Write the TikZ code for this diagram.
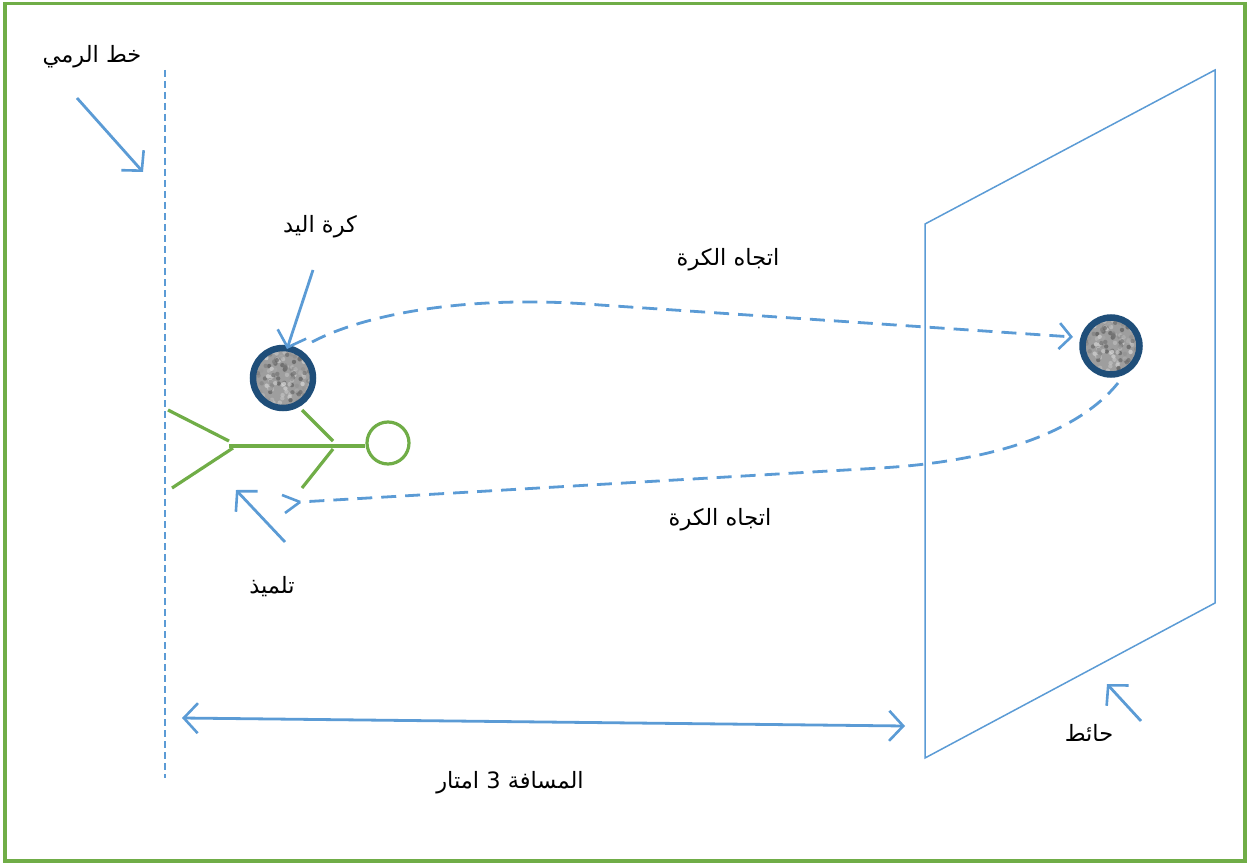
\documentclass[tikz,border=0pt]{standalone}
\usepackage{fontspec}
\usetikzlibrary{arrows.meta,calc}
\TeXXeTstate=1
\newfontfamily\arabicfont[Script=Arabic]{DejaVu Sans}
\definecolor{mblue}{HTML}{5B9BD5}
\definecolor{mgreen}{HTML}{70AD47}
\definecolor{mnavy}{HTML}{1F4E79}
\tikzset{
  lbl/.style={font=\arabicfont\fontsize{22.5}{26}\selectfont, inner sep=0pt},
  ptr/.style={draw=mblue, line width=2.8pt, -{Straight Barb[length=14pt,width=30pt,line width=2.6pt]}},
  curvearrow/.style={draw=mblue, line width=2.8pt, dash pattern=on 15pt off 9pt},
  fig/.style={draw=mgreen, line width=3.2pt},
  ball/.style={circle, draw=mnavy, line width=6.5pt, inner sep=0pt, fill=black!38,
    path picture={\pgfmathsetseed{11}\foreach \k in {1,...,220}{\pgfmathsetmacro\dx{rand*32}\pgfmathsetmacro\dy{rand*32}\pgfmathsetmacro\gv{int(15+random(0,50))}\fill[black!\gv, opacity=0.7] ($(path picture bounding box.center)+(\dx pt,\dy pt)$) circle (2.2pt);}}},
}
\begin{document}
\begin{tikzpicture}[x=1pt,y=-1pt]
\useasboundingbox (0,0) rectangle (1251,864);
% frame
\draw[mgreen, line width=3.5pt] (5,3.5) rectangle (1245,861);
% throw line
\coordinate (tl1) at (165,70);
\coordinate (tl2) at (165,778);
\draw[mblue, line width=1.5pt, dash pattern=on 7pt off 4pt] (tl1) -- (tl2);
% wall
\coordinate (w1) at (925,224);
\coordinate (w2) at (1215,70);
\coordinate (w3) at (1215,603);
\coordinate (w4) at (925,758);
\draw[mblue, line width=1.5pt] (w1) -- (w2) -- (w3) -- (w4) -- cycle;
% balls
\node[ball, minimum size=60pt] (b1) at (283,378) {};
\node[ball, minimum size=57pt] (b2) at (1111,346) {};
% student
\node[circle, fig, minimum size=42pt, inner sep=0pt] (head) at (388,443) {};
\coordinate (hip) at (229,446);
\draw[fig] (hip) -- (head.west |- hip);
\coordinate (l1a) at (168,410);
\coordinate (l1b) at (229,441);
\coordinate (l2a) at (172,488);
\coordinate (l2b) at (233,448);
\coordinate (a1a) at (302,410);
\coordinate (a1b) at (333,441);
\coordinate (a2a) at (333,449);
\coordinate (a2b) at (302,488);
\draw[fig] (l1a) -- (l1b);
\draw[fig] (l2a) -- (l2b);
\draw[fig] (a1a) -- (a1b);
\draw[fig] (a2a) -- (a2b);
% labels
\node[lbl] (tlab) at (92,57) {\beginR خط الرمي\endR};
\node[lbl] (blab) at (320,227) {\beginR كرة اليد\endR};
\node[lbl] (dir1) at (728,260) {\beginR اتجاه الكرة\endR};
\node[lbl] (dir2) at (720,520) {\beginR اتجاه الكرة\endR};
\node[lbl] (slab) at (272,587) {\beginR تلميذ\endR};
\node[lbl] (dlab) at (510,783) {\beginR المسافة 3 امتار\endR};
\node[lbl] (wlab) at (1089,733) {\beginR حائط\endR};
% pointer arrows
\coordinate (p1s) at (77,98);   \coordinate (p1e) at (143,172);
\draw[ptr] (p1s) -- (p1e);
\coordinate (p2s) at (313,270); \coordinate (p2e) at (287,349);
\draw[ptr] (p2s) -- (p2e);
\coordinate (p3s) at (285,542); \coordinate (p3e) at (236,490);
\draw[ptr] (p3s) -- (p3e);
\coordinate (p4s) at (1141,721); \coordinate (p4e) at (1107,684);
\draw[ptr] (p4s) -- (p4e);
% distance
\coordinate (d1) at (182,718);
\coordinate (d2) at (905,726);
\draw[mblue, line width=2.8pt, {Straight Barb[length=14pt,width=30pt,line width=2.6pt]}-{Straight Barb[length=14pt,width=30pt,line width=2.6pt]}] (d1) -- (d2);
% ball trajectories
\coordinate (c1s) at (312,342);
\coordinate (c1m) at (600,305);
\coordinate (c1e) at (1073,337);
\draw[curvearrow, -{Straight Barb[length=12pt,width=26pt,line width=2.6pt]}] (c1s) .. controls (365,314) and (470,294) .. (c1m) -- (c1e);
\coordinate (c2s) at (1118,383);
\coordinate (c2m) at (880,468);
\coordinate (c2e) at (300,502);
\draw[curvearrow] (c2s) .. controls (1080,430) and (1000,461) .. (c2m) -- (c2e);
\draw[mblue, line width=2.6pt] (c2e) -- ++(-18,-7);
\draw[mblue, line width=2.6pt] (c2e) -- ++(-15,11);
\end{tikzpicture}
\end{document}
